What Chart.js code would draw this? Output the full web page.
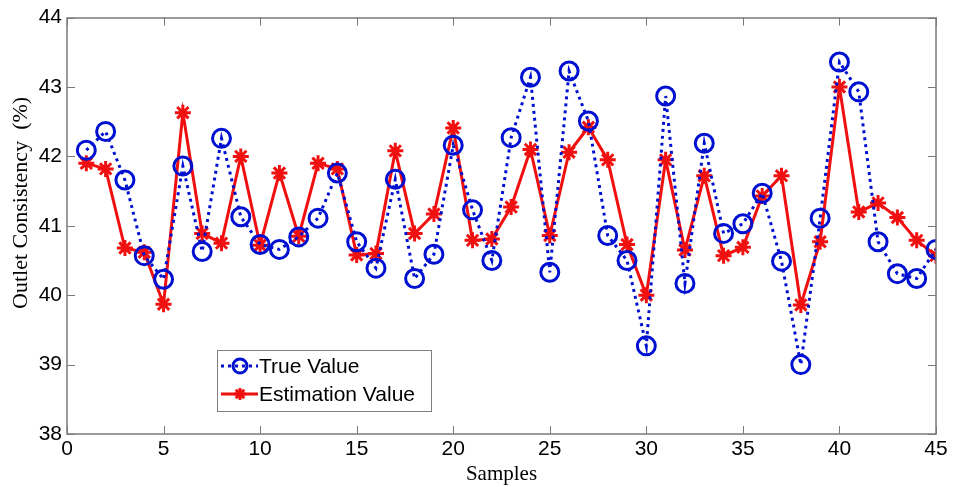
<!DOCTYPE html>
<html>
<head>
<meta charset="utf-8">
<script src="https://cdn.jsdelivr.net/npm/chart.js@4/dist/chart.umd.min.js"></script>
<style>
  html, body { margin: 0; padding: 0; background: #fff; }
  #wrap { width: 955px; height: 487px; }
</style>
</head>
<body>
<div id="wrap"><canvas id="c" width="955" height="487"></canvas></div>
<script>
// sample numbers 1..45
var samples = [1,2,3,4,5,6,7,8,9,10,11,12,13,14,15,16,17,18,19,20,21,22,23,24,25,26,27,28,29,30,31,32,33,34,35,36,37,38,39,40,41,42,43,44,45];
var trueValue = [42.09,42.36,41.66,40.57,40.23,41.86,40.63,42.26,41.13,40.73,40.66,40.84,41.11,41.76,40.77,40.39,41.67,40.24,40.59,42.16,
                 41.23,40.50,42.27,43.14,40.33,43.23,42.51,40.86,40.50,39.27,42.87,40.17,42.19,40.89,41.03,41.47,40.49,39.00,41.11,43.36,
                 42.93,40.77,40.31,40.24,40.66];
var estimationValue = [41.90,41.82,40.68,40.62,39.87,42.63,40.89,40.75,42.00,40.72,41.76,40.85,41.90,41.82,40.58,40.60,42.08,40.89,41.17,42.41,
                       40.79,40.81,41.27,42.10,40.86,42.06,42.42,41.95,40.73,40.00,41.95,40.65,41.72,40.57,40.69,41.43,41.72,39.86,40.77,43.00,
                       41.20,41.33,41.12,40.79,40.57];
var xTicks = [0,5,10,15,20,25,30,35,40,45];
var yTicks = [38,39,40,41,42,43,44];
var yTitle = "Outlet Consistency  (%)";

var BLUE = "#0010d0";
var RED = "#f01010";
var AXIS = "#7a7a7a";
var tickFont = { family: "'Liberation Sans', Arial, sans-serif", size: 21 };
var titleFont = { family: "'Liberation Serif', 'Times New Roman', serif", size: 21 };

function toPoints(ys){
    return ys.map(function(y, i){ return { x: samples[i], y: y }; });
}

// box + inward ticks, MATLAB style, and the rotated y label
var boxPlugin = {
    id: "box",
    afterDraw: function(chart){
        var ctx = chart.ctx, a = chart.chartArea;
        var xs = chart.scales.x, ys = chart.scales.y;
        var len = 8;
        ctx.save();
        ctx.strokeStyle = AXIS;
        ctx.lineWidth = 1.5;
        ctx.strokeRect(Math.round(a.left), Math.round(a.top), Math.round(a.right - a.left), Math.round(a.bottom - a.top));
        ctx.lineWidth = 1;
        ctx.beginPath();
        xTicks.forEach(function(v){
            var px = Math.round(xs.getPixelForValue(v)) + 0.5;
            ctx.moveTo(px, a.bottom); ctx.lineTo(px, a.bottom - len);
            ctx.moveTo(px, a.top); ctx.lineTo(px, a.top + len);
        });
        yTicks.forEach(function(v){
            var py = Math.round(ys.getPixelForValue(v)) + 0.5;
            ctx.moveTo(a.left, py); ctx.lineTo(a.left + len, py);
            ctx.moveTo(a.right, py); ctx.lineTo(a.right - len, py);
        });
        ctx.stroke();

        // y axis title sits a bit above the middle in the original
        ctx.translate(21, ys.getPixelForValue(41.33));
        ctx.rotate(-Math.PI / 2);
        ctx.fillStyle = "#000";
        ctx.font = "22px 'Liberation Serif', 'Times New Roman', serif";
        ctx.textAlign = "center";
        ctx.textBaseline = "middle";
        ctx.fillText(yTitle, 0, 0);
        ctx.restore();
    }
};

// legend box inside the plot, lower left
var legendPlugin = {
    id: "boxLegend",
    afterDraw: function(chart){
        var ctx = chart.ctx;
        var bx = 217, by = 350, bw = 214, bh = 61;
        ctx.save();
        ctx.fillStyle = "#fff";
        ctx.fillRect(bx, by, bw, bh);
        ctx.strokeStyle = "#808080";
        ctx.lineWidth = 1;
        ctx.strokeRect(bx + 0.5, by + 0.5, bw, bh);
        chart.data.datasets.forEach(function(ds, i){
            var yy = by + 16 + i * 28;
            ctx.strokeStyle = ds.borderColor;
            ctx.lineWidth = 3;
            ctx.setLineDash(ds.borderDash || []);
            ctx.beginPath();
            ctx.moveTo(bx + 4, yy); ctx.lineTo(bx + 41, yy);
            ctx.stroke();
            ctx.setLineDash([]);
            ctx.fillStyle = ds.pointBackgroundColor;
            ctx.strokeStyle = ds.pointBorderColor;
            Chart.helpers.drawPoint(ctx, { pointStyle: ds.pointStyle, radius: ds.pointRadius - 2, borderWidth: ds.pointBorderWidth }, bx + 23, yy);
            ctx.fillStyle = "#000";
            ctx.font = "21px 'Liberation Sans', Arial, sans-serif";
            ctx.textBaseline = "middle";
            ctx.fillText(ds.label, bx + 42, yy + 1);
        });
        ctx.restore();
    }
};

new Chart(document.getElementById("c"), {
    type: "line",
    data: {
        datasets: [{
            label: "True Value",
            data: toPoints(trueValue),
            borderColor: BLUE,
            borderWidth: 3,
            borderDash: [3, 4],
            pointStyle: "circle",
            pointRadius: 9,
            pointBorderWidth: 3,
            pointBorderColor: BLUE,
            pointBackgroundColor: "rgba(0,0,0,0)",
            fill: false,
            tension: 0
        }, {
            label: "Estimation Value",
            data: toPoints(estimationValue),
            borderColor: RED,
            borderWidth: 3,
            pointStyle: "star",
            pointRadius: 8,
            pointBorderWidth: 3,
            pointBorderColor: RED,
            pointBackgroundColor: RED,
            fill: false,
            tension: 0
        }]
    },
    options: {
        responsive: false,
        animation: false,
        devicePixelRatio: 1,
        layout: { padding: { left: 0, right: 19, top: 15, bottom: 0 } },
        plugins: { legend: { display: false }, tooltip: { enabled: false } },
        scales: {
            x: {
                type: "linear",
                min: 0, max: 45,
                afterBuildTicks: function(s){ s.ticks = xTicks.map(function(v){ return { value: v }; }); },
                afterFit: function(s){ s.height = 53; },
                grid: { display: false, drawTicks: false },
                border: { display: false },
                ticks: { color: "#000", font: tickFont, padding: 3, maxRotation: 0 },
                title: { display: true, text: "Samples", color: "#000", font: titleFont, padding: { top: 0, bottom: 0 } }
            },
            y: {
                min: 38, max: 44,
                afterBuildTicks: function(s){ s.ticks = yTicks.map(function(v){ return { value: v }; }); },
                afterFit: function(s){ s.width = 67; },
                grid: { display: false, drawTicks: false },
                border: { display: false },
                ticks: { color: "#000", font: tickFont, padding: 5 }
            }
        }
    },
    plugins: [boxPlugin, legendPlugin]
});
</script>
</body>
</html>
